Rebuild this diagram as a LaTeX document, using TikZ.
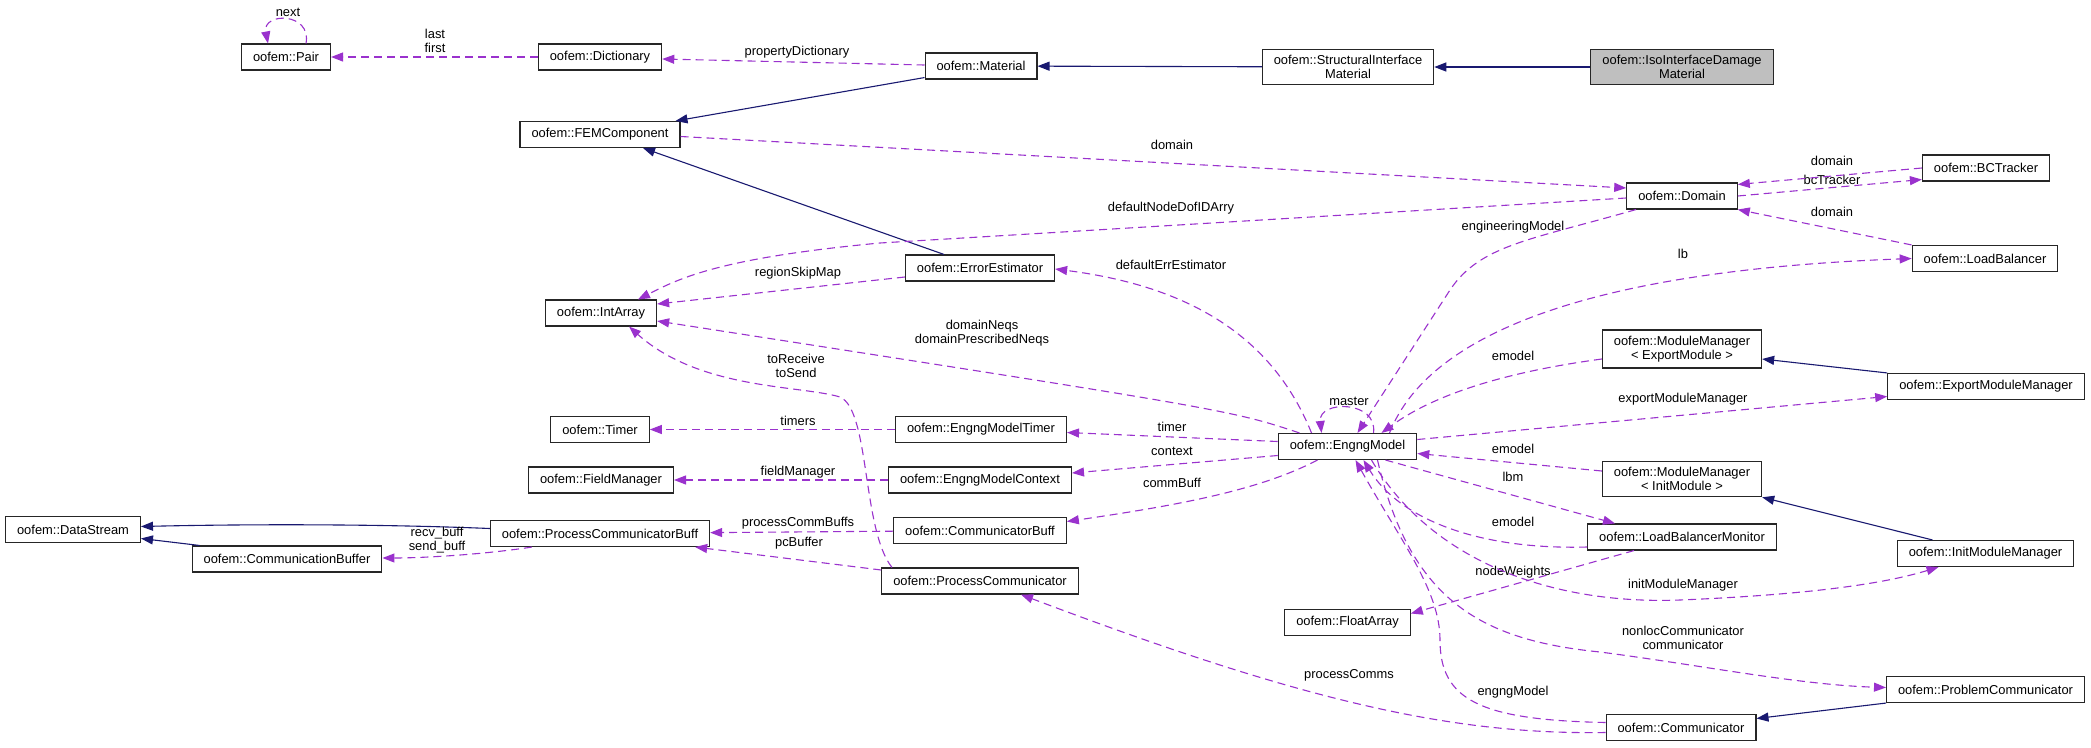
\documentclass[tikz,border=0pt]{standalone}
\usepackage{fontspec}
\setmainfont{Liberation Sans}
\usetikzlibrary{arrows.meta}
\definecolor{usecol}{HTML}{9A32CD}
\definecolor{inhcol}{HTML}{191970}
\definecolor{curcls}{HTML}{BFBFBF}
\begin{document}
\begin{tikzpicture}[x=1pt,y=-1pt,
  cls/.style={draw=black!85, line width=1.1pt, fill=white, font=\fontsize{12.9}{14}\selectfont, inner xsep=11.5pt, inner ysep=6pt, minimum height=26pt, align=center},
  inh/.style={draw=inhcol, line width=1.1pt, -{Triangle[length=12pt,width=9pt]}},
  use/.style={draw=usecol, line width=1.1pt, dash pattern=on 8pt off 5pt, -{Triangle[length=12pt,width=9pt]}},
  lbl/.style={font=\fontsize{12.9}{14}\selectfont, align=center, inner sep=0pt}]
\useasboundingbox (0,0) rectangle (2091,747);
\node[cls] (pair) at (286,57) {oofem::Pair};
\node[cls] (dict) at (600,57) {oofem::Dictionary};
\node[cls] (mat) at (981,66) {oofem::Material};
\node[cls] (sim) at (1348,67) {oofem::StructuralInterface\\Material};
\node[cls, fill=curcls] (iidm) at (1682,67) {oofem::IsoInterfaceDamage\\Material};
\node[cls] (femc) at (600,134.5) {oofem::FEMComponent};
\node[cls] (dom) at (1682,196) {oofem::Domain};
\node[cls] (bct) at (1986,168) {oofem::BCTracker};
\node[cls] (lbal) at (1985,258.5) {oofem::LoadBalancer};
\node[cls] (errest) at (980,268) {oofem::ErrorEstimator};
\node[cls] (intarr) at (601,313) {oofem::IntArray};
\node[cls] (mmexp) at (1682,349) {oofem::ModuleManager\\< ExportModule >};
\node[cls] (expmm) at (1986,386.5) {oofem::ExportModuleManager};
\node[cls] (timer) at (600,429.5) {oofem::Timer};
\node[cls] (emtimer) at (981,429.5) {oofem::EngngModelTimer};
\node[cls] (engm) at (1347.5,446.5) {oofem::EngngModel};
\node[cls] (mminit) at (1682,479) {oofem::ModuleManager\\< InitModule >};
\node[cls] (fieldm) at (601,480) {oofem::FieldManager};
\node[cls] (emctx) at (980,480) {oofem::EngngModelContext};
\node[cls] (dstream) at (73,529.5) {oofem::DataStream};
\node[cls] (pcbuff) at (600,533.5) {oofem::ProcessCommunicatorBuff};
\node[cls] (cbuff) at (980,530.5) {oofem::CommunicatorBuff};
\node[cls] (lbmon) at (1682,537) {oofem::LoadBalancerMonitor};
\node[cls] (initmm) at (1985.5,553.5) {oofem::InitModuleManager};
\node[cls] (combuf) at (287,559) {oofem::CommunicationBuffer};
\node[cls] (pcomm) at (980,581) {oofem::ProcessCommunicator};
\node[cls] (farr) at (1347.5,622.5) {oofem::FloatArray};
\node[cls] (probcomm) at (1985.5,689.5) {oofem::ProblemCommunicator};
\node[cls] (comm) at (1681,727.5) {oofem::Communicator};
\path[inh] (iidm) -- (sim);
\path[inh] (sim) -- (mat);
\path[inh] ([shift={(0,-2)}]mat.south west) -- ([shift={(-5,0)}]femc.north east);
\path[inh] ([shift={(-36,0)}]errest.north) -- ([shift={(43,0)}]femc.south);
\path[inh] (expmm.north west) -- ([shift={(0,10)}]mmexp.east);
\path[inh] ([shift={(-53,0)}]initmm.north) -- (mminit.south east);
\path[inh] ([shift={(0,-5)}]pcbuff.west) .. controls (380,524) and (250,524) .. ([shift={(0,-3)}]dstream.east);
\path[inh] ([shift={(8,0)}]combuf.north west) -- ([shift={(0,9)}]dstream.east);
\path[inh] (probcomm.south west) -- ([shift={(0,-9)}]comm.east);
\path[use] ([shift={(20,0)}]pair.north) .. controls (312,12) and (262,12) .. ([shift={(-18,0)}]pair.north) node[lbl] (lNext) at (288,12) {next};
\path[use] (dict) -- (pair) node[lbl] (lFirst) at (435,41) {last\\first};
\path[use] ([shift={(0,-1)}]mat.west) -- ([shift={(0,2)}]dict.east) node[lbl] (lPropDict) at (797,52) {propertyDictionary};
\path[use] ([shift={(0,2)}]femc.east) -- ([shift={(0,-8)}]dom.west) node[lbl] (lDomA) at (1172,145) {domain};
\path[use] ([shift={(0,2)}]dom.west) -- (880,243) .. controls (720,258) and (680,278) .. ([shift={(37,0)}]intarr.north) node[lbl] (lDofId) at (1171,208) {defaultNodeDofIDArry};
\path[use] (dom.east) -- ([shift={(0,-2)}]bct.south west) node[lbl] (lBcTr) at (1832,180) {bcTracker};
\path[use] (bct.west) -- ([shift={(0,2)}]dom.north east) node[lbl] (lDomB) at (1832,161) {domain};
\path[use] (lbal.north west) -- (dom.south east) node[lbl] (lDomC) at (1832,212) {domain};
\path[use] ([shift={(-46,0)}]dom.south) .. controls (1530,240) and (1480,245) .. (1450,290) -- ([shift={(10,0)}]engm.north) node[lbl] (lEngModel) at (1513,227) {engineeringModel};
\path[use] ([shift={(42,0)}]engm.north) .. controls (1430,330) and (1600,270) .. (lbal.west) node[lbl] (lLb) at (1683,254) {lb};
\path[use] ([shift={(-36,0)}]engm.north) .. controls (1270,330) and (1180,285) .. ([shift={(0,1)}]errest.east) node[lbl] (lErrEst) at (1171,265) {defaultErrEstimator};
\path[use] ([shift={(0,9)}]errest.west) -- ([shift={(0,-9)}]intarr.east) node[lbl] (lRegSkip) at (798,273) {regionSkipMap};
\path[use] ([shift={(-48,0)}]engm.north) .. controls (1230,410) .. ([shift={(0,8)}]intarr.east) node[lbl] (lNeqs) at (982,333) {domainNeqs\\domainPrescribedNeqs};
\path[use] ([shift={(-88,0)}]pcomm.north) .. controls (862,530) and (870,410) .. (840,397) .. controls (800,385) and (700,390) .. ([shift={(28,0)}]intarr.south) node[lbl] (lToSend) at (796,366) {toReceive\\toSend};
\path[use] ([shift={(26,0)}]engm.north) .. controls (1378,400) and (1318,400) .. ([shift={(-26,0)}]engm.north) node[lbl] (lMaster) at (1349,401) {master};
\path[use] ([shift={(0,10)}]mmexp.west) .. controls (1520,370) and (1440,390) .. ([shift={(34,0)}]engm.north) node[lbl] (lEmodelA) at (1513,356) {emodel};
\path[use] ([shift={(0,-7)}]engm.east) -- ([shift={(0,10)}]expmm.west) node[lbl] (lExpMM) at (1683,399) {exportModuleManager};
\path[use] ([shift={(0,-8)}]mminit.west) -- ([shift={(0,7)}]engm.east) node[lbl] (lEmodelB) at (1513,449) {emodel};
\path[use] ([shift={(38,0)}]engm.south) -- ([shift={(-67,0)}]lbmon.north) node[lbl] (lLbm) at (1513,477) {lbm};
\path[use] ([shift={(0,10)}]lbmon.west) .. controls (1480,550) and (1400,520) .. ([shift={(16,0)}]engm.south) node[lbl] (lEmodelC) at (1513,522) {emodel};
\path[use] ([shift={(-48,0)}]lbmon.south) -- ([shift={(0,-9)}]farr.east) node[lbl] (lNodeW) at (1513,572) {nodeWeights};
\path[use] ([shift={(24,0)}]engm.south) .. controls (1430,560) and (1550,605) .. (1680,600) .. controls (1800,595) and (1880,585) .. ([shift={(-47,0)}]initmm.south) node[lbl] (lInitMM) at (1683,585) {initModuleManager};
\path[use] ([shift={(30,0)}]engm.south) .. controls (1410,600) and (1480,640) .. (1600,652) .. controls (1700,665) and (1800,685) .. ([shift={(0,-2)}]probcomm.west) node[lbl] (lComm) at (1683,638) {nonlocCommunicator\\communicator};
\path[use] ([shift={(0,-5)}]comm.west) .. controls (1480,720) and (1440,700) .. (1440,640) .. controls (1440,590) and (1400,540) .. ([shift={(8,0)}]engm.south) node[lbl] (lEngngM) at (1513,692) {engngModel};
\path[use] ([shift={(0,5)}]comm.west) .. controls (1450,735) and (1300,700) .. ([shift={(41,0)}]pcomm.south) node[lbl] (lProcComms) at (1349,675) {processComms};
\path[use] (emtimer) -- (timer) node[lbl] (lTimers) at (798,421) {timers};
\path[use] ([shift={(0,-5)}]engm.west) -- ([shift={(0,3)}]emtimer.east) node[lbl] (lTimer) at (1172,427) {timer};
\path[use] (emctx) -- (fieldm) node[lbl] (lFieldM) at (798,472) {fieldManager};
\path[use] ([shift={(0,9)}]engm.west) -- ([shift={(0,-7)}]emctx.east) node[lbl] (lContext) at (1172,451) {context};
\path[use] ([shift={(-30,0)}]engm.south) .. controls (1260,490) and (1180,505) .. ([shift={(0,-9)}]cbuff.east) node[lbl] (lCommBuff) at (1172,483) {commBuff};
\path[use] (cbuff) -- (pcbuff) node[lbl] (lPCBuffs) at (798,523) {processCommBuffs};
\path[use] ([shift={(0,-11)}]pcomm.west) -- ([shift={(-15,0)}]pcbuff.south east) node[lbl] (lPcBuffer) at (799,543) {pcBuffer};
\path[use] ([shift={(42,0)}]pcbuff.south west) .. controls (480,555) and (420,558) .. ([shift={(0,-1)}]combuf.east) node[lbl] (lBuffs) at (437,540) {recv\_buff\\send\_buff};
\end{tikzpicture}
\end{document}
